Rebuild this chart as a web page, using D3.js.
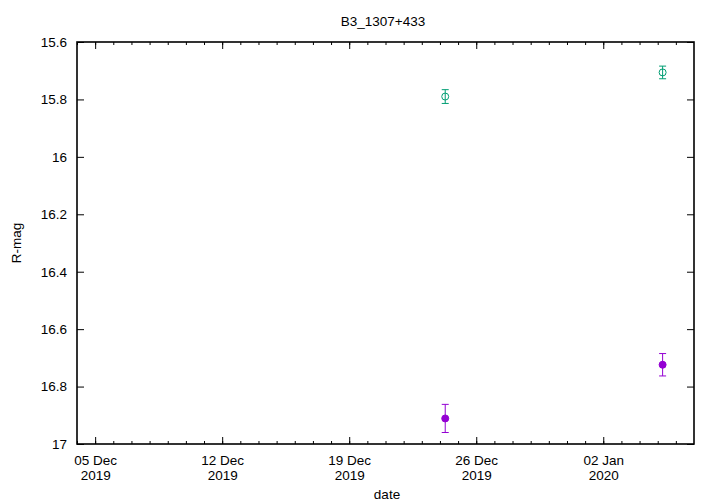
<!DOCTYPE html>
<html>
<head>
<meta charset="utf-8">
<script src="https://cdn.jsdelivr.net/npm/d3@7"></script>
<style>
  body { margin: 0; background: #fff; }
  svg { font-family: "Liberation Sans", Arial, sans-serif; }
</style>
</head>
<body>
<svg width="720" height="504"></svg>
<script>
// data
var title = "B3_1307+433";
var dates = ["2019-12-24T07:00:00Z", "2020-01-05T06:30:00Z"];
var magOpen = [15.79, 15.706];
var errOpen = [0.024, 0.022];
var magFilled = [16.911, 16.724];
var errFilled = [0.049, 0.039];
var xTickDates = ["2019-12-05", "2019-12-12", "2019-12-19", "2019-12-26", "2020-01-02"];
var yTicks = [15.6, 15.8, 16, 16.2, 16.4, 16.6, 16.8, 17];

var svg = d3.select("svg");
var margin = {left: 77, right: 26, top: 42, bottom: 60};
var width = +svg.attr("width");
var height = +svg.attr("height");
var fs = 13.5;

var x = d3.scaleUtc()
    .domain([new Date("2019-12-04T00:00:00Z"), new Date("2020-01-07T00:00:00Z")])
    .range([margin.left, width - margin.right]);
var y = d3.scaleLinear()
    .domain([15.6, 17])
    .range([margin.top, height - margin.bottom]);

var fmtDay = d3.utcFormat("%d %b");
var fmtYear = d3.utcFormat("%Y");
var majors = xTickDates.map(function(d) { return new Date(d + "T00:00:00Z"); });
var minors = d3.utcDay.range(x.domain()[0], x.domain()[1]);

// minor ticks (bottom + top)
svg.append("g")
    .attr("transform", "translate(0," + y.range()[1] + ")")
    .call(d3.axisBottom(x).tickValues(minors).tickSize(-3).tickFormat(""))
    .call(function(g) { g.select(".domain").remove(); });
svg.append("g")
    .attr("transform", "translate(0," + y.range()[0] + ")")
    .call(d3.axisTop(x).tickValues(minors).tickSize(-3).tickFormat(""))
    .call(function(g) { g.select(".domain").remove(); });

// major x ticks, two-line labels
var xb = svg.append("g")
    .attr("transform", "translate(0," + y.range()[1] + ")")
    .call(d3.axisBottom(x).tickValues(majors).tickSize(-7).tickFormat(""))
    .call(function(g) { g.select(".domain").remove(); });
xb.selectAll(".tick").append("text")
    .attr("fill", "#000")
    .attr("font-size", fs)
    .attr("text-anchor", "middle")
    .attr("y", 21)
    .text(function(d) { return fmtDay(d); });
xb.selectAll(".tick").append("text")
    .attr("fill", "#000")
    .attr("font-size", fs)
    .attr("text-anchor", "middle")
    .attr("y", 36)
    .text(function(d) { return fmtYear(d); });
svg.append("g")
    .attr("transform", "translate(0," + y.range()[0] + ")")
    .call(d3.axisTop(x).tickValues(majors).tickSize(-7).tickFormat(""))
    .call(function(g) { g.select(".domain").remove(); });

// y ticks left + right
svg.append("g")
    .attr("transform", "translate(" + x.range()[0] + ",0)")
    .call(d3.axisLeft(y).tickValues(yTicks).tickSize(-7).tickPadding(10).tickFormat(d3.format("")))
    .call(function(g) {
      g.select(".domain").remove();
      g.selectAll("text").attr("font-size", fs).attr("font-family", null).attr("fill", "#000");
    });
svg.append("g")
    .attr("transform", "translate(" + x.range()[1] + ",0)")
    .call(d3.axisRight(y).tickValues(yTicks).tickSize(-7).tickFormat(""))
    .call(function(g) { g.select(".domain").remove(); });

svg.selectAll(".tick line").attr("stroke", "#000").attr("stroke-width", 1);

// frame
svg.append("rect")
    .attr("x", x.range()[0])
    .attr("y", y.range()[0])
    .attr("width", x.range()[1] - x.range()[0])
    .attr("height", y.range()[1] - y.range()[0])
    .attr("fill", "none")
    .attr("stroke", "#000")
    .attr("stroke-width", 1.6);

// series
function drawSeries(mags, errs, color, filled) {
  var pts = dates.map(function(d, i) {
    return {date: new Date(d), mag: mags[i], err: errs[i]};
  });
  var g = svg.append("g").attr("stroke", color).attr("stroke-width", 1);
  var eb = g.selectAll("g.eb").data(pts).enter().append("g").attr("class", "eb");
  eb.append("line")
      .attr("x1", function(d) { return x(d.date); })
      .attr("x2", function(d) { return x(d.date); })
      .attr("y1", function(d) { return y(d.mag - d.err); })
      .attr("y2", function(d) { return y(d.mag + d.err); });
  [-1, 1].forEach(function(s) {
    eb.append("line")
        .attr("x1", function(d) { return x(d.date) - 3.5; })
        .attr("x2", function(d) { return x(d.date) + 3.5; })
        .attr("y1", function(d) { return y(d.mag + s * d.err); })
        .attr("y2", function(d) { return y(d.mag + s * d.err); });
  });
  eb.append("circle")
      .attr("cx", function(d) { return x(d.date); })
      .attr("cy", function(d) { return y(d.mag); })
      .attr("r", 3.5)
      .attr("fill", filled ? color : "none");
}
drawSeries(magOpen, errOpen, "#009e73", false);
drawSeries(magFilled, errFilled, "#9400d3", true);

// labels
svg.append("text")
    .attr("x", 383).attr("y", 26)
    .attr("text-anchor", "middle")
    .attr("font-size", fs)
    .text(title);
svg.append("text")
    .attr("x", 387).attr("y", 499)
    .attr("text-anchor", "middle")
    .attr("font-size", fs)
    .text("date");
svg.append("text")
    .attr("transform", "translate(21,243) rotate(-90)")
    .attr("text-anchor", "middle")
    .attr("font-size", fs)
    .text("R-mag");
</script>
</body>
</html>
